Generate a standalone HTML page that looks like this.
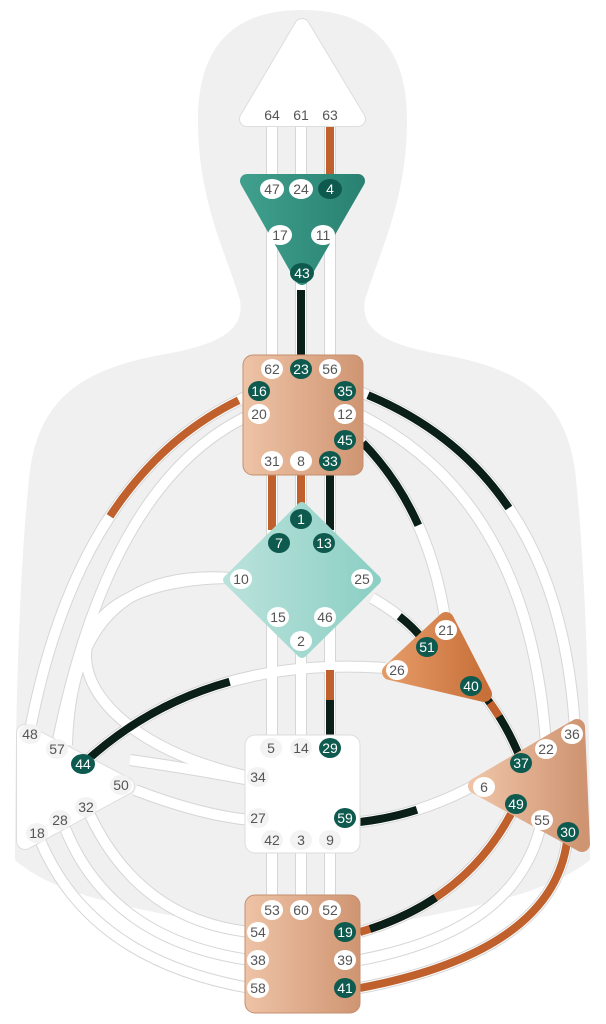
<!DOCTYPE html>
<html><head><meta charset="utf-8"><style>
html,body{margin:0;padding:0;background:#fff;}
svg{display:block;}
text{font-family:"Liberation Sans",sans-serif;font-size:14px;text-anchor:middle;dominant-baseline:central;fill:#555;}
.d text{fill:#fff;}
</style></head><body>
<svg width="606" height="1024" viewBox="0 0 606 1024" xmlns="http://www.w3.org/2000/svg">
<defs>
<linearGradient id="sal" x1="0" x2="1"><stop offset="0" stop-color="#eec3a6"/><stop offset="1" stop-color="#cf9572"/></linearGradient>
<linearGradient id="org" x1="0" x2="1"><stop offset="0" stop-color="#e59a66"/><stop offset="1" stop-color="#c8703a"/></linearGradient>
<linearGradient id="tea" x1="0" x2="1"><stop offset="0" stop-color="#3f9e8c"/><stop offset="1" stop-color="#2a8372"/></linearGradient>
<linearGradient id="gc" x1="0" x2="1"><stop offset="0" stop-color="#b9e2db"/><stop offset="1" stop-color="#8ccfc4"/></linearGradient>
</defs>
<path d="M302,10 C230,10 198,50 198,120 C198,200 225,250 240,300 C245,330 220,345 160,355 C80,370 40,400 30,470 C20,560 15,700 15,860 C60,900 150,910 245,930 L360,930 C450,910 540,900 590,860 C590,700 585,560 575,470 C565,400 525,370 445,355 C385,345 360,330 365,300 C380,250 407,200 407,120 C407,50 375,10 302,10 Z" fill="#f0f0f0"/>
<g fill="none" stroke-linecap="butt">
<g stroke="#d6d6d6" stroke-width="12">
<path d="M272,120V360M301,120V360M330,120V360"/>
<path d="M272,470V745M301,470V745M330,470V745"/>
<path d="M272,845V905M301,845V905M330,845V905"/>
<path d="M250,395 Q80,470 30,730"/>
<path d="M250,415 Q110,480 57,745"/>
<path d="M230,578 C120,570 70,630 67,745"/>
<path d="M230,578 C30,580 40,730 250,777"/>
<path d="M360,392 Q560,470 575,730"/>
<path d="M360,415 Q530,500 546,745"/>
<path d="M360,440 Q430,510 446,625"/>
<path d="M372,598 Q410,620 427,645"/>
<path d="M385,668 Q200,655 83,764"/>
<path d="M480,690 Q505,720 521,760"/>
<path d="M360,822 Q420,815 475,785"/>
<path d="M130,760 Q200,770 250,780"/>
<path d="M135,790 Q200,815 250,820"/>
<path d="M40,840 Q90,960 250,988"/>
<path d="M65,828 Q110,940 250,960"/>
<path d="M90,815 Q140,920 250,932"/>
<path d="M360,932 Q470,900 516,804"/>
<path d="M360,960 Q520,930 542,820"/>
<path d="M360,988 Q560,950 568,832"/>
</g>
<g stroke="#fff" stroke-width="10">
<path d="M272,120V360M301,120V360M330,120V360"/>
<path d="M272,470V745M301,470V745M330,470V745"/>
<path d="M272,845V905M301,845V905M330,845V905"/>
<path d="M250,395 Q80,470 30,730"/>
<path d="M250,415 Q110,480 57,745"/>
<path d="M230,578 C120,570 70,630 67,745"/>
<path d="M230,578 C30,580 40,730 250,777"/>
<path d="M360,392 Q560,470 575,730"/>
<path d="M360,415 Q530,500 546,745"/>
<path d="M360,440 Q430,510 446,625"/>
<path d="M372,598 Q410,620 427,645"/>
<path d="M385,668 Q200,655 83,764"/>
<path d="M480,690 Q505,720 521,760"/>
<path d="M360,822 Q420,815 475,785"/>
<path d="M130,760 Q200,770 250,780"/>
<path d="M135,790 Q200,815 250,820"/>
<path d="M40,840 Q90,960 250,988"/>
<path d="M65,828 Q110,940 250,960"/>
<path d="M90,815 Q140,920 250,932"/>
<path d="M360,932 Q470,900 516,804"/>
<path d="M360,960 Q520,930 542,820"/>
<path d="M360,988 Q560,950 568,832"/>
</g>
<g stroke-width="8">
<path d="M330,125V175" stroke="#c0602c"/>
<path d="M301,290V360" stroke="#0a1f17"/>
<path d="M272,475V530" stroke="#c0602c"/>
<path d="M301,475V510" stroke="#c0602c"/>
<path d="M330,475V530" stroke="#0a1f17"/>
<path d="M330,670V700" stroke="#c0602c"/>
<path d="M330,700V740" stroke="#0a1f17"/>
<path d="M250,395 Q80,470 30,730" stroke="#c0602c" pathLength="100" stroke-dasharray="0 3 42 200"/>
<path d="M360,392 Q560,470 575,730" stroke="#0a1f17" pathLength="100" stroke-dasharray="0 2 43 200"/>
<path d="M360,440 Q430,510 446,625" stroke="#0a1f17" pathLength="100" stroke-dasharray="0 2 48 200"/>
<path d="M372,598 Q410,620 427,645" stroke="#0a1f17" pathLength="100" stroke-dasharray="0 45 60 200"/>
<path d="M385,668 Q200,655 83,764" stroke="#0a1f17" pathLength="100" stroke-dasharray="0 48 52 200"/>
<path d="M480,690 Q505,720 521,760" stroke="#0a1f17"/>
<path d="M480,690 Q505,720 521,760" stroke="#c0602c" pathLength="100" stroke-dasharray="0 20 20 200"/>
<path d="M360,822 Q420,815 475,785" stroke="#0a1f17" pathLength="100" stroke-dasharray="0 0 48 200"/>
<path d="M360,932 Q470,900 516,804" stroke="#c0602c"/>
<path d="M360,932 Q470,900 516,804" stroke="#0a1f17" pathLength="100" stroke-dasharray="0 5 35 200"/>
<path d="M360,988 Q560,950 568,832" stroke="#c0602c"/>
</g>
</g>
<path d="M302,26 L358,119 L247,119 Z" fill="#ddd" stroke="#ddd" stroke-width="16" stroke-linejoin="round"/>
<path d="M302,26 L358,119 L247,119 Z" fill="#fff" stroke="#fff" stroke-width="14" stroke-linejoin="round"/>
<path d="M247,181 L358,181 L302,278 Z" fill="url(#tea)" stroke="url(#tea)" stroke-width="14" stroke-linejoin="round"/>
<rect x="243" y="355" width="120" height="120" rx="10" fill="url(#sal)" stroke="#c58f6e"/>
<path d="M302,507 L376,580 L302,653 L228,580 Z" fill="url(#gc)" stroke="url(#gc)" stroke-width="10" stroke-linejoin="round"/>
<path d="M446,620 L484,694 L390,672 Z" fill="url(#org)" stroke="url(#org)" stroke-width="16" stroke-linejoin="round"/>
<path d="M25,733 L25,841 L126,786 Z" fill="#ddd" stroke="#ddd" stroke-width="18" stroke-linejoin="round"/>
<path d="M25,733 L25,841 L126,786 Z" fill="#fff" stroke="#fff" stroke-width="16" stroke-linejoin="round"/>
<rect x="245" y="735" width="115" height="118" rx="10" fill="#fff" stroke="#ddd"/>
<path d="M577,727 L582,844 L476,786 Z" fill="url(#sal)" stroke="url(#sal)" stroke-width="16" stroke-linejoin="round"/>
<rect x="245" y="895" width="115" height="118" rx="10" fill="url(#sal)" stroke="#c58f6e"/>
<g>
<text x="272" y="115">64</text><text x="301" y="115">61</text><text x="330" y="115">63</text>
</g>
<g fill="#f3f3f3">
<ellipse cx="30" cy="734" rx="11" ry="10"/><ellipse cx="57" cy="749" rx="11" ry="10"/><ellipse cx="121" cy="785" rx="11" ry="10"/>
<ellipse cx="86" cy="807" rx="11" ry="10"/><ellipse cx="60" cy="820" rx="11" ry="10"/><ellipse cx="37" cy="833" rx="11" ry="10"/>
<ellipse cx="271" cy="748" rx="11" ry="10"/><ellipse cx="301" cy="748" rx="11" ry="10"/>
<ellipse cx="258" cy="777" rx="11" ry="10"/><ellipse cx="258" cy="818" rx="11" ry="10"/>
<ellipse cx="272" cy="840" rx="11" ry="10"/><ellipse cx="301" cy="840" rx="11" ry="10"/><ellipse cx="330" cy="840" rx="11" ry="10"/>
</g>
<g fill="#fff">
<ellipse cx="272" cy="189" rx="12" ry="10"/><ellipse cx="301" cy="189" rx="12" ry="10"/>
<ellipse cx="280" cy="235" rx="12" ry="10"/><ellipse cx="323" cy="235" rx="12" ry="10"/>
<ellipse cx="272" cy="369" rx="11" ry="10"/><ellipse cx="330" cy="369" rx="11" ry="10"/>
<ellipse cx="259" cy="414" rx="11" ry="10"/><ellipse cx="345" cy="414" rx="11" ry="10"/>
<ellipse cx="272" cy="461" rx="11" ry="10"/><ellipse cx="301" cy="461" rx="11" ry="10"/>
<ellipse cx="241" cy="579" rx="11" ry="10"/><ellipse cx="362" cy="579" rx="11" ry="10"/>
<ellipse cx="278" cy="617" rx="11" ry="10"/><ellipse cx="325" cy="617" rx="11" ry="10"/>
<ellipse cx="301" cy="641" rx="11" ry="10"/>
<ellipse cx="446" cy="630" rx="11" ry="10"/><ellipse cx="397" cy="670" rx="11" ry="10"/>
<ellipse cx="484" cy="787" rx="11" ry="10"/><ellipse cx="546" cy="749" rx="11" ry="10"/>
<ellipse cx="572" cy="734" rx="11" ry="10"/><ellipse cx="542" cy="820" rx="11" ry="10"/>
<ellipse cx="272" cy="910" rx="11" ry="10"/><ellipse cx="301" cy="910" rx="11" ry="10"/><ellipse cx="330" cy="910" rx="11" ry="10"/>
<ellipse cx="258" cy="932" rx="11" ry="10"/><ellipse cx="258" cy="960" rx="11" ry="10"/><ellipse cx="345" cy="960" rx="11" ry="10"/><ellipse cx="258" cy="988" rx="11" ry="10"/>
</g>
<g fill="#0e5a4e">
<ellipse cx="330" cy="189" rx="12" ry="10"/><ellipse cx="302" cy="273" rx="12" ry="10"/>
<ellipse cx="301" cy="369" rx="11" ry="10"/><ellipse cx="259" cy="391" rx="11" ry="10"/><ellipse cx="345" cy="391" rx="11" ry="10"/>
<ellipse cx="345" cy="440" rx="11" ry="10"/><ellipse cx="330" cy="461" rx="11" ry="10"/>
<ellipse cx="301" cy="519" rx="11" ry="10"/><ellipse cx="279" cy="543" rx="11" ry="10"/><ellipse cx="324" cy="543" rx="11" ry="10"/>
<ellipse cx="427" cy="647" rx="11" ry="10"/><ellipse cx="471" cy="686" rx="11" ry="10"/>
<ellipse cx="83" cy="764" rx="12" ry="10"/>
<ellipse cx="330" cy="748" rx="11" ry="10"/><ellipse cx="345" cy="818" rx="11" ry="10"/>
<ellipse cx="521" cy="763" rx="11" ry="10"/><ellipse cx="516" cy="804" rx="11" ry="10"/><ellipse cx="568" cy="832" rx="11" ry="10"/>
<ellipse cx="345" cy="932" rx="11" ry="10"/><ellipse cx="345" cy="988" rx="11" ry="10"/>
</g>
<g>
<text x="272" y="189">47</text><text x="301" y="189">24</text>
<text x="280" y="235">17</text><text x="323" y="235">11</text>
<text x="272" y="369">62</text><text x="330" y="369">56</text>
<text x="259" y="414">20</text><text x="345" y="414">12</text>
<text x="272" y="461">31</text><text x="301" y="461">8</text>
<text x="241" y="579">10</text><text x="362" y="579">25</text>
<text x="278" y="617">15</text><text x="325" y="617">46</text><text x="301" y="641">2</text>
<text x="446" y="630">21</text><text x="397" y="670">26</text>
<text x="30" y="734">48</text><text x="57" y="749">57</text><text x="121" y="785">50</text>
<text x="86" y="807">32</text><text x="60" y="820">28</text><text x="37" y="833">18</text>
<text x="271" y="748">5</text><text x="301" y="748">14</text>
<text x="258" y="777">34</text><text x="258" y="818">27</text>
<text x="272" y="840">42</text><text x="301" y="840">3</text><text x="330" y="840">9</text>
<text x="572" y="734">36</text><text x="546" y="749">22</text><text x="484" y="787">6</text><text x="542" y="820">55</text>
<text x="272" y="910">53</text><text x="301" y="910">60</text><text x="330" y="910">52</text>
<text x="258" y="932">54</text><text x="258" y="960">38</text><text x="345" y="960">39</text><text x="258" y="988">58</text>
</g>
<g class="d">
<text x="330" y="189">4</text><text x="302" y="273">43</text>
<text x="301" y="369">23</text><text x="259" y="391">16</text><text x="345" y="391">35</text>
<text x="345" y="440">45</text><text x="330" y="461">33</text>
<text x="301" y="519">1</text><text x="279" y="543">7</text><text x="324" y="543">13</text>
<text x="427" y="647">51</text><text x="471" y="686">40</text>
<text x="83" y="764">44</text>
<text x="330" y="748">29</text><text x="345" y="818">59</text>
<text x="521" y="763">37</text><text x="516" y="804">49</text><text x="568" y="832">30</text>
<text x="345" y="932">19</text><text x="345" y="988">41</text>
</g>
</svg>
</body></html>
